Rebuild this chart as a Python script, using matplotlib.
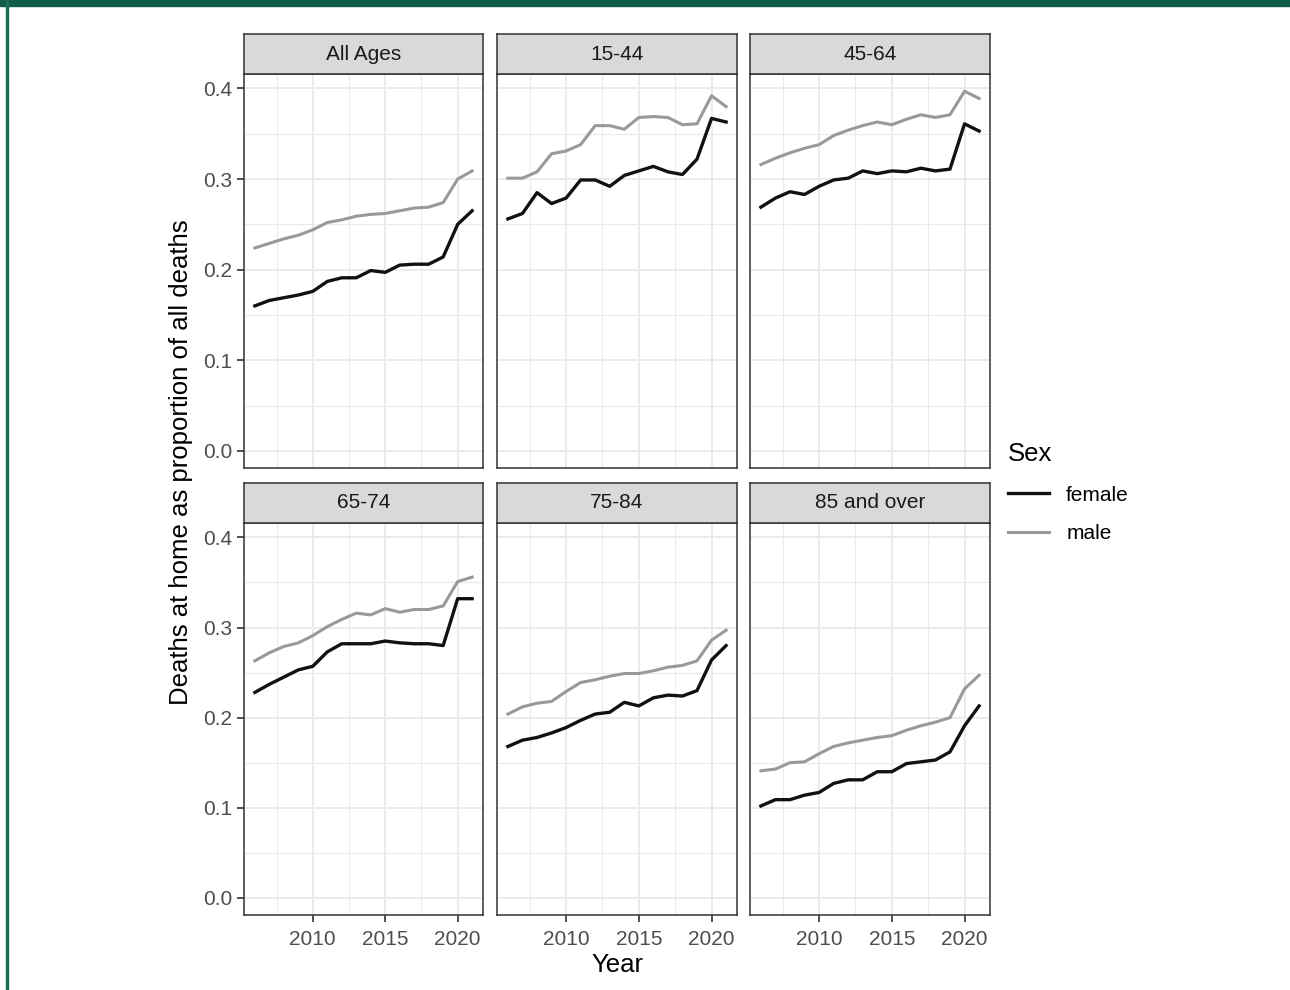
import matplotlib.pyplot as plt
from matplotlib.patches import Rectangle
from matplotlib.lines import Line2D

plt.rcParams['font.family'] = ['Liberation Sans', 'DejaVu Sans']

years = list(range(2006, 2022))
panels = ["All Ages", "15-44", "45-64", "65-74", "75-84", "85 and over"]

female = {
    "All Ages": [0.160, 0.166, 0.169, 0.172, 0.176, 0.187, 0.191, 0.191, 0.199, 0.197,
                 0.205, 0.206, 0.206, 0.214, 0.250, 0.265],
    "15-44": [0.256, 0.262, 0.285, 0.273, 0.279, 0.299, 0.299, 0.292, 0.304, 0.309,
              0.314, 0.308, 0.305, 0.322, 0.367, 0.363],
    "45-64": [0.269, 0.279, 0.286, 0.283, 0.292, 0.299, 0.301, 0.309, 0.306, 0.309,
              0.308, 0.312, 0.309, 0.311, 0.361, 0.353],
    "65-74": [0.228, 0.237, 0.245, 0.253, 0.257, 0.273, 0.282, 0.282, 0.282, 0.285,
              0.283, 0.282, 0.282, 0.280, 0.332, 0.332],
    "75-84": [0.168, 0.175, 0.178, 0.183, 0.189, 0.197, 0.204, 0.206, 0.217, 0.213,
              0.222, 0.225, 0.224, 0.230, 0.264, 0.280],
    "85 and over": [0.102, 0.109, 0.109, 0.114, 0.117, 0.127, 0.131, 0.131, 0.140, 0.140,
                    0.149, 0.151, 0.153, 0.162, 0.191, 0.213],
}
male = {
    "All Ages": [0.224, 0.229, 0.234, 0.238, 0.244, 0.252, 0.255, 0.259, 0.261, 0.262,
                 0.265, 0.268, 0.269, 0.274, 0.300, 0.309],
    "15-44": [0.301, 0.301, 0.308, 0.328, 0.331, 0.338, 0.359, 0.359, 0.355, 0.368,
              0.369, 0.368, 0.360, 0.361, 0.392, 0.380],
    "45-64": [0.316, 0.323, 0.329, 0.334, 0.338, 0.348, 0.354, 0.359, 0.363, 0.360,
              0.366, 0.371, 0.368, 0.371, 0.397, 0.389],
    "65-74": [0.263, 0.272, 0.279, 0.283, 0.291, 0.301, 0.309, 0.316, 0.314, 0.321,
              0.317, 0.320, 0.320, 0.324, 0.351, 0.356],
    "75-84": [0.204, 0.212, 0.216, 0.218, 0.229, 0.239, 0.242, 0.246, 0.249, 0.249,
              0.252, 0.256, 0.258, 0.263, 0.286, 0.297],
    "85 and over": [0.141, 0.143, 0.150, 0.151, 0.160, 0.168, 0.172, 0.175, 0.178, 0.180,
                    0.186, 0.191, 0.195, 0.200, 0.232, 0.247],
}

W, H = 1290, 990
fig = plt.figure(figsize=(W / 100, H / 100), dpi=100)

# green frame of the source page
fig.patches.append(Rectangle((0, 1 - 6 / H), 1, 6 / H, transform=fig.transFigure,
                             color='#0f5c4a', zorder=0))
fig.patches.append(Rectangle((6 / W, 0), 2 / W, 1, transform=fig.transFigure,
                             color='#1b6b56', zorder=0))

col_x = [(244, 483), (497, 737), (750, 990)]
row_y = [(34, 74, 468), (483, 523, 915)]  # strip top, strip bottom, plot bottom


def frac(x0, y0, x1, y1):
    return [x0 / W, 1 - y1 / H, (x1 - x0) / W, (y1 - y0) / H]


for i, name in enumerate(panels):
    r, c = divmod(i, 3)
    x0, x1 = col_x[c]
    st, sb, pb = row_y[r]

    ax = fig.add_axes(frac(x0, sb, x1, pb))
    ax.plot(years, female[name], color='#111111', lw=2.4, zorder=3)
    ax.plot(years, male[name], color='#999999', lw=2.2, zorder=3)
    ax.set_xlim(2005.25, 2021.75)
    ax.set_ylim(-0.019, 0.416)
    ax.set_xticks([2010, 2015, 2020])
    ax.set_xticks([2007.5, 2012.5, 2017.5], minor=True)
    ax.set_yticks([0.0, 0.1, 0.2, 0.3, 0.4])
    ax.set_yticks([0.05, 0.15, 0.25, 0.35], minor=True)
    ax.grid(which='major', color='#ebebeb', lw=1.4, zorder=0)
    ax.grid(which='minor', color='#ebebeb', lw=0.8, zorder=0)
    ax.set_axisbelow(True)
    for s in ax.spines.values():
        s.set_color('#333333')
        s.set_linewidth(1.1)
    ax.tick_params(which='minor', length=0)
    ax.tick_params(which='major', length=5, width=1.2, color='#333333',
                   labelcolor='#4d4d4d', labelsize=15)
    ax.tick_params(axis='x', pad=6)
    if c == 0:
        ax.set_yticklabels(['0.0', '0.1', '0.2', '0.3', '0.4'])
    else:
        ax.tick_params(axis='y', length=0, labelleft=False)
    if r == 1:
        ax.set_xticklabels(['2010', '2015', '2020'])
    else:
        ax.tick_params(axis='x', length=0, labelbottom=False)

    sax = fig.add_axes(frac(x0, st, x1, sb))
    sax.set_facecolor('#d9d9d9')
    sax.set_xticks([])
    sax.set_yticks([])
    for s in sax.spines.values():
        s.set_color('#333333')
        s.set_linewidth(1.1)
    sax.text(0.5, 0.5, name, ha='center', va='center', fontsize=15,
             color='#1a1a1a', transform=sax.transAxes)

fig.text(617 / W, 1 - 965 / H, 'Year', ha='center', va='center', fontsize=18.5)
fig.text(181 / W, 1 - 462 / H, 'Deaths at home as proportion of all deaths',
         ha='center', va='center', rotation=90, fontsize=18.5)

handles = [Line2D([], [], color='#111111', lw=2.4),
           Line2D([], [], color='#999999', lw=2.2)]
leg = fig.legend(handles, ['female', 'male'], title='Sex', loc='upper left',
                 bbox_to_anchor=(989 / W, 1 - 423 / H), frameon=False,
                 fontsize=15, title_fontsize=18.5, handlelength=2.0,
                 labelspacing=0.95, handletextpad=0.8)
leg._legend_box.align = 'left'

fig.savefig('out.png', dpi=100)
